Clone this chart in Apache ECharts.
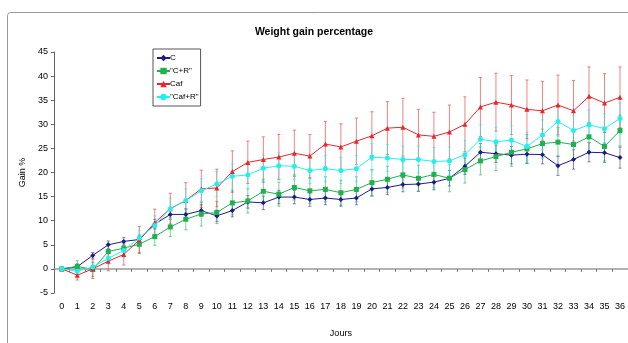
<!DOCTYPE html>
<html><head><meta charset="utf-8">
<script src="https://cdn.jsdelivr.net/npm/echarts@6/dist/echarts.min.js"></script>
<style>html,body{margin:0;padding:0;background:#fff}#c{width:628px;height:343px}</style>
</head><body><div id="c"></div>
<script>
var days = [];
for (var d = 0; d <= 36; d++) days.push(String(d));
var seriesNames = ['C', '"C+R"', 'Caf', '"Caf+R"'];
var valC = [0,0.45,2.8,5.0,5.7,6.1,9.3,11.3,11.3,12.1,11.0,12.1,13.9,13.7,14.9,14.9,14.4,14.7,14.4,14.7,16.6,16.9,17.5,17.6,18.0,18.8,21.3,24.2,23.9,23.6,23.8,23.7,21.4,22.7,24.2,24.1,23.1];
var valCR = [0,0.5,-0.1,3.6,4.3,5.1,6.7,8.7,10.3,11.4,11.7,13.7,14.1,16.1,15.5,16.9,16.2,16.5,15.8,16.5,17.9,18.6,19.5,18.8,19.6,18.8,20.6,22.4,23.3,24.2,24.9,26.0,26.3,25.8,27.4,25.4,28.7];
var valCaf = [0,-1.3,0,1.6,3.0,6.0,9.6,12.5,14.2,16.6,16.8,20.2,22.1,22.7,23.2,24.0,23.4,25.9,25.3,26.5,27.6,29.2,29.4,27.8,27.5,28.4,30.0,33.6,34.6,34.0,33.1,32.8,34.0,32.8,35.8,34.4,35.6];
var valCafR = [0,-0.5,0.4,2.2,3.8,6.4,9.0,12.5,14.2,16.2,17.6,19.2,19.5,20.9,21.4,21.3,20.4,20.8,20.4,20.8,23.2,23.0,22.7,22.7,22.3,22.4,23.7,26.9,26.4,26.7,25.4,27.8,30.6,28.7,29.9,29.1,31.2];
var errC = [0,0.6,0.6,0.8,0.8,0.9,1.0,1.0,1.1,1.2,1.2,1.3,1.3,1.4,1.4,1.4,1.4,1.4,1.4,1.4,1.5,1.5,1.5,1.5,1.6,1.6,1.7,1.8,1.8,1.8,1.9,1.9,2.0,2.0,2.0,2.0,2.2];
var errCR = [0,1.2,1.5,1.7,1.5,1.7,1.8,2.0,2.2,2.5,2.3,2.5,2.5,2.5,2.5,2.6,2.6,2.6,2.6,2.6,2.7,2.7,2.7,2.7,2.8,2.8,2.8,2.9,2.9,2.9,3.0,3.0,3.0,3.0,3.0,3.0,3.2];
var errCaf = [0,1.0,2.0,2.0,2.2,2.8,2.8,3.2,3.7,3.9,3.9,4.3,4.4,4.7,4.7,4.8,4.5,4.7,4.8,4.8,5.0,5.5,6.0,5.3,5.0,5.6,5.7,6.1,6.0,6.1,6.1,6.1,6.2,6.3,6.1,6.1,6.3];
var errCafR = [0,0.8,1.0,1.2,1.4,1.6,2.0,2.2,2.4,2.5,2.6,2.6,2.7,2.7,2.7,2.7,2.7,2.7,2.7,2.7,2.8,2.8,2.8,2.8,2.9,2.9,3.0,3.0,3.0,3.0,3.0,3.1,3.1,3.1,3.1,3.1,3.2];
var yTicks = [-5,0,5,10,15,20,25,30,35,40,45];

var colors = ['#1c1c86', '#1fb050', '#e8262c', '#22f0f0'];
var errColors = ['rgba(40,40,140,0.55)', 'rgba(40,175,90,0.6)', 'rgba(228,50,50,0.6)', 'rgba(40,230,230,0.55)'];
var symbols = ['diamond', 'rect', 'triangle', 'circle'];
var symSizes = [5, 5, 5, 5];
var vals = [valC, valCR, valCaf, valCafR];
var errs = [errC, errCR, errCaf, errCafR];

function errData(v, e) {
  return v.map(function (x, i) { return [i, x - e[i], x + e[i]]; });
}
function renderErr(color) {
  return function (params, api) {
    var i = api.value(0);
    var lo = api.coord([i, api.value(1)]);
    var hi = api.coord([i, api.value(2)]);
    var w = 1.6;
    var st = { stroke: color, lineWidth: 1 };
    return { type: 'group', children: [
      { type: 'line', shape: { x1: lo[0], y1: lo[1], x2: hi[0], y2: hi[1] }, style: st },
      { type: 'line', shape: { x1: lo[0] - w, y1: lo[1], x2: lo[0] + w, y2: lo[1] }, style: st },
      { type: 'line', shape: { x1: hi[0] - w, y1: hi[1], x2: hi[0] + w, y2: hi[1] }, style: st }
    ]};
  };
}

var series = [];
for (var k = 0; k < 4; k++) {
  series.push({
    name: 'err' + k, type: 'custom', renderItem: renderErr(errColors[k]),
    data: errData(vals[k], errs[k]), z: 1 + k, silent: true, encode: { x: 0, y: [1, 2] }
  });
}
for (var k2 = 0; k2 < 4; k2++) {
  series.push({
    name: seriesNames[k2], type: 'line', data: vals[k2], z: 10 + k2,
    symbol: symbols[k2], symbolSize: symSizes[k2], showSymbol: true,
    lineStyle: { color: colors[k2], width: 1 },
    itemStyle: { color: colors[k2] }, animation: false
  });
}

var chart = echarts.init(document.getElementById('c'));
chart.setOption({
  animation: false,
  textStyle: { fontFamily: 'Liberation Sans, Arial, sans-serif' },
  title: { text: 'Weight gain percentage', left: 'center', top: 22,
    textStyle: { fontSize: 10.5, fontWeight: 'bold', color: '#000', fontFamily: 'Liberation Sans, Arial, sans-serif' } },
  legend: {
    data: seriesNames, orient: 'vertical', left: 153, top: 49,
    padding: [5, 2, 5, 3], itemGap: 5, itemWidth: 13, itemHeight: 8,
    borderColor: '#555', borderWidth: 1, backgroundColor: '#fff',
    textStyle: { fontSize: 8, color: '#000', padding: [0, 0, 0, -5] }
  },
  grid: { left: 54, right: 0, top: 52, bottom: 32 },
  xAxis: {
    type: 'category', data: days, boundaryGap: true,
    name: 'Jours', nameLocation: 'middle', nameGap: 36,
    nameTextStyle: { fontSize: 9, color: '#000' },
    axisLine: { onZero: true, lineStyle: { color: '#999', width: 1.5 } },
    axisTick: { show: true, length: 3, lineStyle: { color: '#777' } },
    axisLabel: { interval: 0, fontSize: 9, color: '#000', margin: 9 },
    splitLine: { show: false }
  },
  yAxis: {
    type: 'value', min: yTicks[0], max: yTicks[yTicks.length - 1], interval: 5,
    name: 'Gain %', nameLocation: 'middle', nameGap: 22,
    nameTextStyle: { fontSize: 9, color: '#000' },
    axisLine: { show: true, lineStyle: { color: '#666' } },
    axisTick: { show: true, length: 3, lineStyle: { color: '#666' } },
    axisLabel: { fontSize: 9, color: '#000', margin: 6 },
    splitLine: { show: false }
  },
  graphic: [
    { type: 'rect', shape: { x: 7.5, y: 12.5, width: 700, height: 400, r: 3 },
      style: { fill: 'none', stroke: '#999', lineWidth: 1 }, silent: true, z: -1 }
  ],
  series: series
});
</script></body></html>
